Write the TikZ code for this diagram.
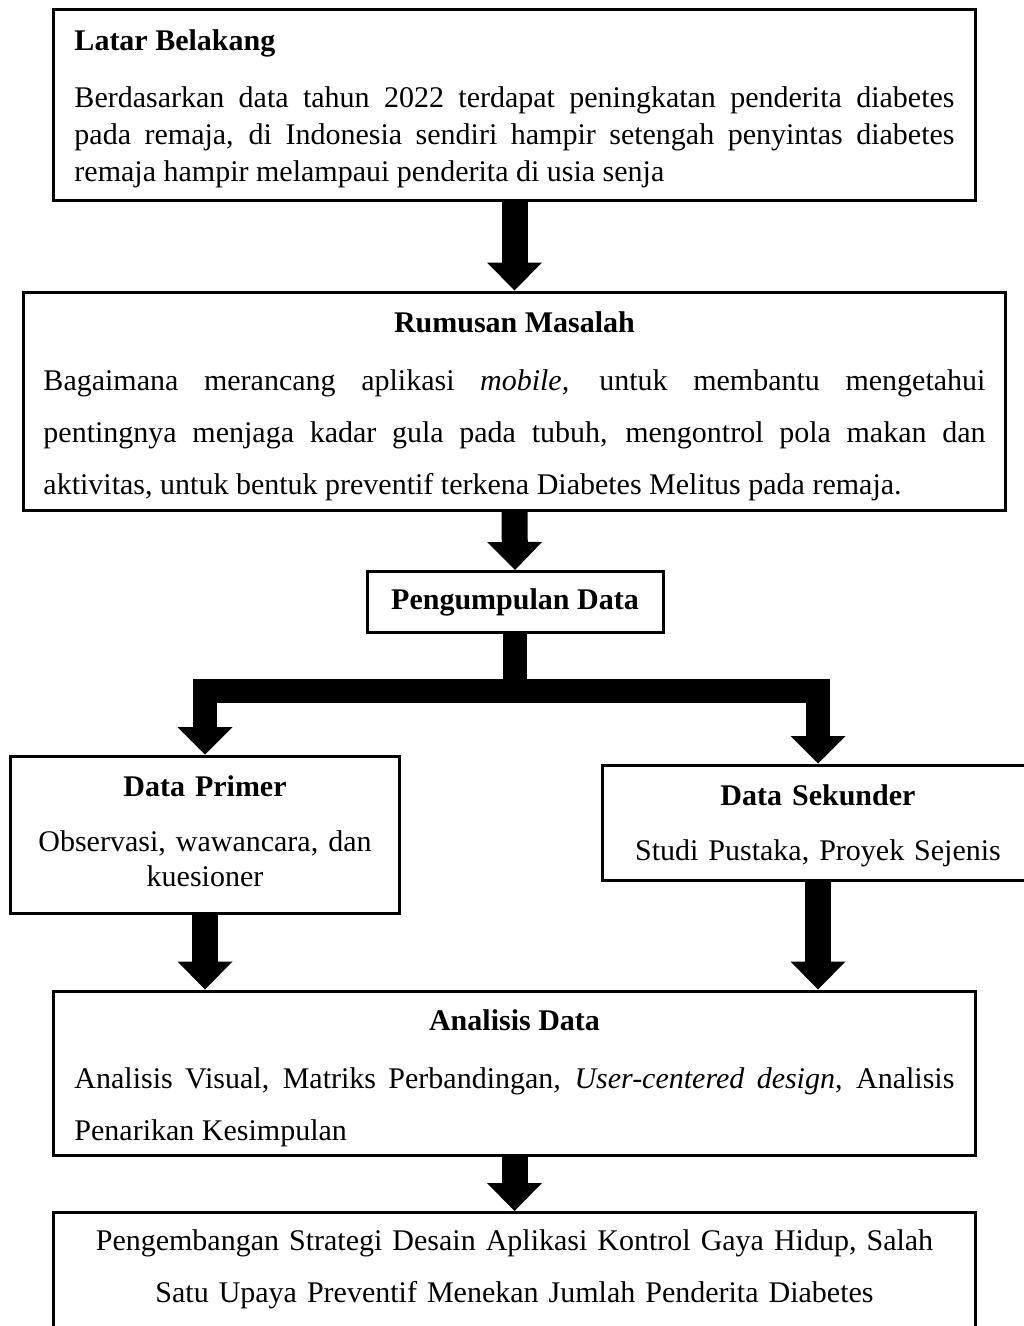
\documentclass[tikz,border=0pt,12pt]{standalone}
\usepackage{fontspec}
\setmainfont{Liberation Serif}
\usetikzlibrary{arrows.meta}

\begin{document}
\begin{tikzpicture}[x=0.4pt,y=-0.4pt,
    box/.style={draw,line width=1.2pt,inner sep=0pt,font=\fontsize{12}{14.8}\selectfont},
    wide/.style={font=\fontsize{12}{20.8}\selectfont},
    padbottom/.style={execute at end node={\endgraf\vspace{#1}\hrule height0pt}},
    blockarrow/.style={line width=10.4pt,-{Triangle[width=22pt,length=11.2pt,line width=0pt]}},
    fork/.style={line width=9.6pt}]
  \useasboundingbox (0,0) rectangle (1023,1326);

  \node[box,padbottom=-3.2pt,minimum width=368.4pt,minimum height=76pt,text width=352pt,align=justify] (lb) at (514.5,105)
    {\textbf{Latar Belakang}\\[8pt]
     Berdasarkan data tahun 2022 terdapat peningkatan penderita diabetes\linebreak
     pada remaja, di Indonesia sendiri hampir setengah penyintas diabetes\linebreak
     remaja hampir melampaui penderita di usia senja};
  \node[box,wide,padbottom=-4pt,minimum width=392.4pt,minimum height=87.2pt,text width=376.8pt,align=justify] (rm) at (514.5,401)
    {\hspace*{\fill}\textbf{Rumusan Masalah}\hspace*{\fill}\\[2.4pt]
     Bagaimana merancang aplikasi \textit{mobile,} untuk membantu mengetahui\linebreak
     pentingnya menjaga kadar gula pada tubuh, mengontrol pola makan dan\linebreak
     aktivitas, untuk bentuk preventif terkena Diabetes Melitus pada remaja.};
  \node[box,minimum width=118.4pt,minimum height=24.4pt] (pd) at (515,602) {\textbf{Pengumpulan Data}};
  \node[box,padbottom=2.4pt,font=\fontsize{12}{14}\selectfont,minimum width=155.2pt,minimum height=62.8pt,text width=150pt,align=center] (dp) at (205,834.5)
    {\textbf{Data Primer}\\[8pt]Observasi, wawancara, dan\\kuesioner};
  \node[box,padbottom=-2.4pt,minimum width=172.8pt,minimum height=46pt,text width=165pt,align=center] (ds) at (818,822.5)
    {\textbf{Data Sekunder}\\[7.2pt]Studi Pustaka, Proyek Sejenis};
  \node[box,wide,padbottom=-4pt,minimum width=368.4pt,minimum height=65.6pt,text width=352pt,align=justify] (an) at (514.5,1073)
    {\hspace*{\fill}\textbf{Analisis Data}\hspace*{\fill}\\[2.4pt]
     Analisis Visual, Matriks Perbandingan\textit{, User-centered design}, Analisis\linebreak
     Penarikan Kesimpulan};
  \node[box,wide,padbottom=30pt,anchor=north,minimum width=368.4pt,inner ysep=6.8pt,text width=352pt,align=center] (fn) at (514.5,1211)
    {Pengembangan Strategi Desain Aplikasi Kontrol Gaya Hidup, Salah\\
     Satu Upaya Preventif Menekan Jumlah Penderita Diabetes};

  \coordinate (fork) at (515,691);

  \draw[blockarrow] (lb.south) -- (rm.north);
  \draw[blockarrow] (rm.south) -- (pd.north);
  \draw[fork] (pd.south) -- (pd.south |- fork);
  \draw[fork,line cap=rect] (dp.north |- fork) -- (ds.north |- fork);
  \draw[fork,-{Triangle[width=22pt,length=11pt,line width=0pt]}] (dp.north |- fork) -- (dp.north);
  \draw[fork,-{Triangle[width=22pt,length=11pt,line width=0pt]}] (ds.north |- fork) -- (ds.north);
  \draw[blockarrow] (dp.south) -- (dp.south |- an.north);
  \draw[blockarrow] (ds.south) -- (ds.south |- an.north);
  \draw[blockarrow] (an.south) -- (fn.north);
\end{tikzpicture}
\end{document}
